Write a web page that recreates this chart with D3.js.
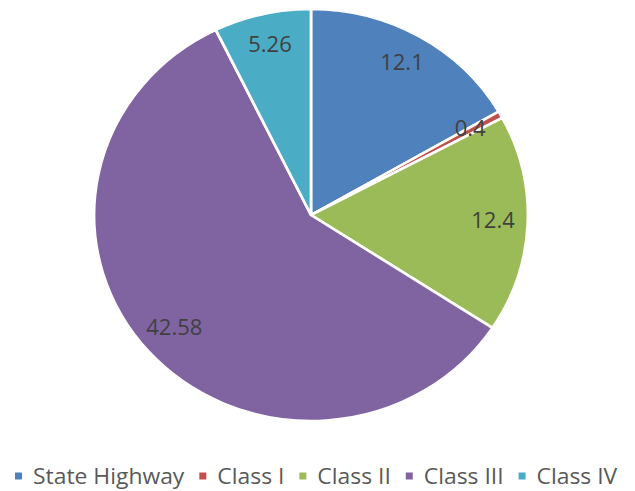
<!DOCTYPE html>
<html>
<head>
<meta charset="utf-8">
<script src="https://cdn.jsdelivr.net/npm/d3@7"></script>
<style>
  html,body{margin:0;padding:0;background:#fff;}
  svg text{font-family:"Open Sans","Liberation Sans",sans-serif;}
</style>
</head>
<body>
<div id="chart"></div>
<script>
// road classes and their lengths, clockwise from 12 o'clock
var categories=["State Highway","Class I","Class II","Class III","Class IV"];
var values=[12.1,0.4,12.4,42.58,5.26];
var labels=["12.1","0.4","12.4","42.58","5.26"];
var colors=["#4F81BD","#C0504D","#9BBB59","#8064A2","#4BACC6"];

var W=635,H=491;
var cx=311,cy=215,R=206,sx=1.053;
var svg=d3.select("#chart").append("svg").attr("width",W).attr("height",H);

var pie=d3.pie().sort(null).value(function(d){return d;});
var arcs=pie(values);
var arc=d3.arc().innerRadius(0).outerRadius(R);
var lab=d3.arc().innerRadius(R*0.84).outerRadius(R*0.84);

var g=svg.append("g").attr("transform","translate("+cx+","+cy+") scale("+sx+",1)");
g.selectAll("path").data(arcs).enter().append("path")
  .attr("d",arc).attr("fill",function(d,i){return colors[i];})
  .attr("stroke","#fff").attr("stroke-width",2.6).attr("stroke-linejoin","round");

var t=svg.append("g").attr("transform","translate("+cx+","+cy+")");
t.selectAll("text").data(arcs).enter().append("text")
  .attr("transform",function(d){var c=lab.centroid(d);return "translate("+(c[0]*sx)+","+(c[1]-2)+") scale(1.05,1)";})
  .attr("dy","0.35em").attr("text-anchor","middle")
  .attr("font-size",21).attr("fill","#404040")
  .text(function(d,i){return labels[i];});

// legend
var lg=svg.append("g").attr("transform","translate(15,476)");
var lx=0, ts=1.04;
categories.forEach(function(c,i){
  var it=lg.append("g").attr("transform","translate("+lx+",0)");
  it.append("rect").attr("x",0).attr("y",-3.5).attr("width",7).attr("height",7).attr("fill",colors[i]);
  var tx=it.append("g").attr("transform","translate(18,0) scale("+ts+",1)")
    .append("text").attr("dy","0.35em")
    .attr("font-size",22).attr("fill","#595959").text(c);
  lx+=18+tx.node().getComputedTextLength()*ts+15;
});
</script>
</body>
</html>
